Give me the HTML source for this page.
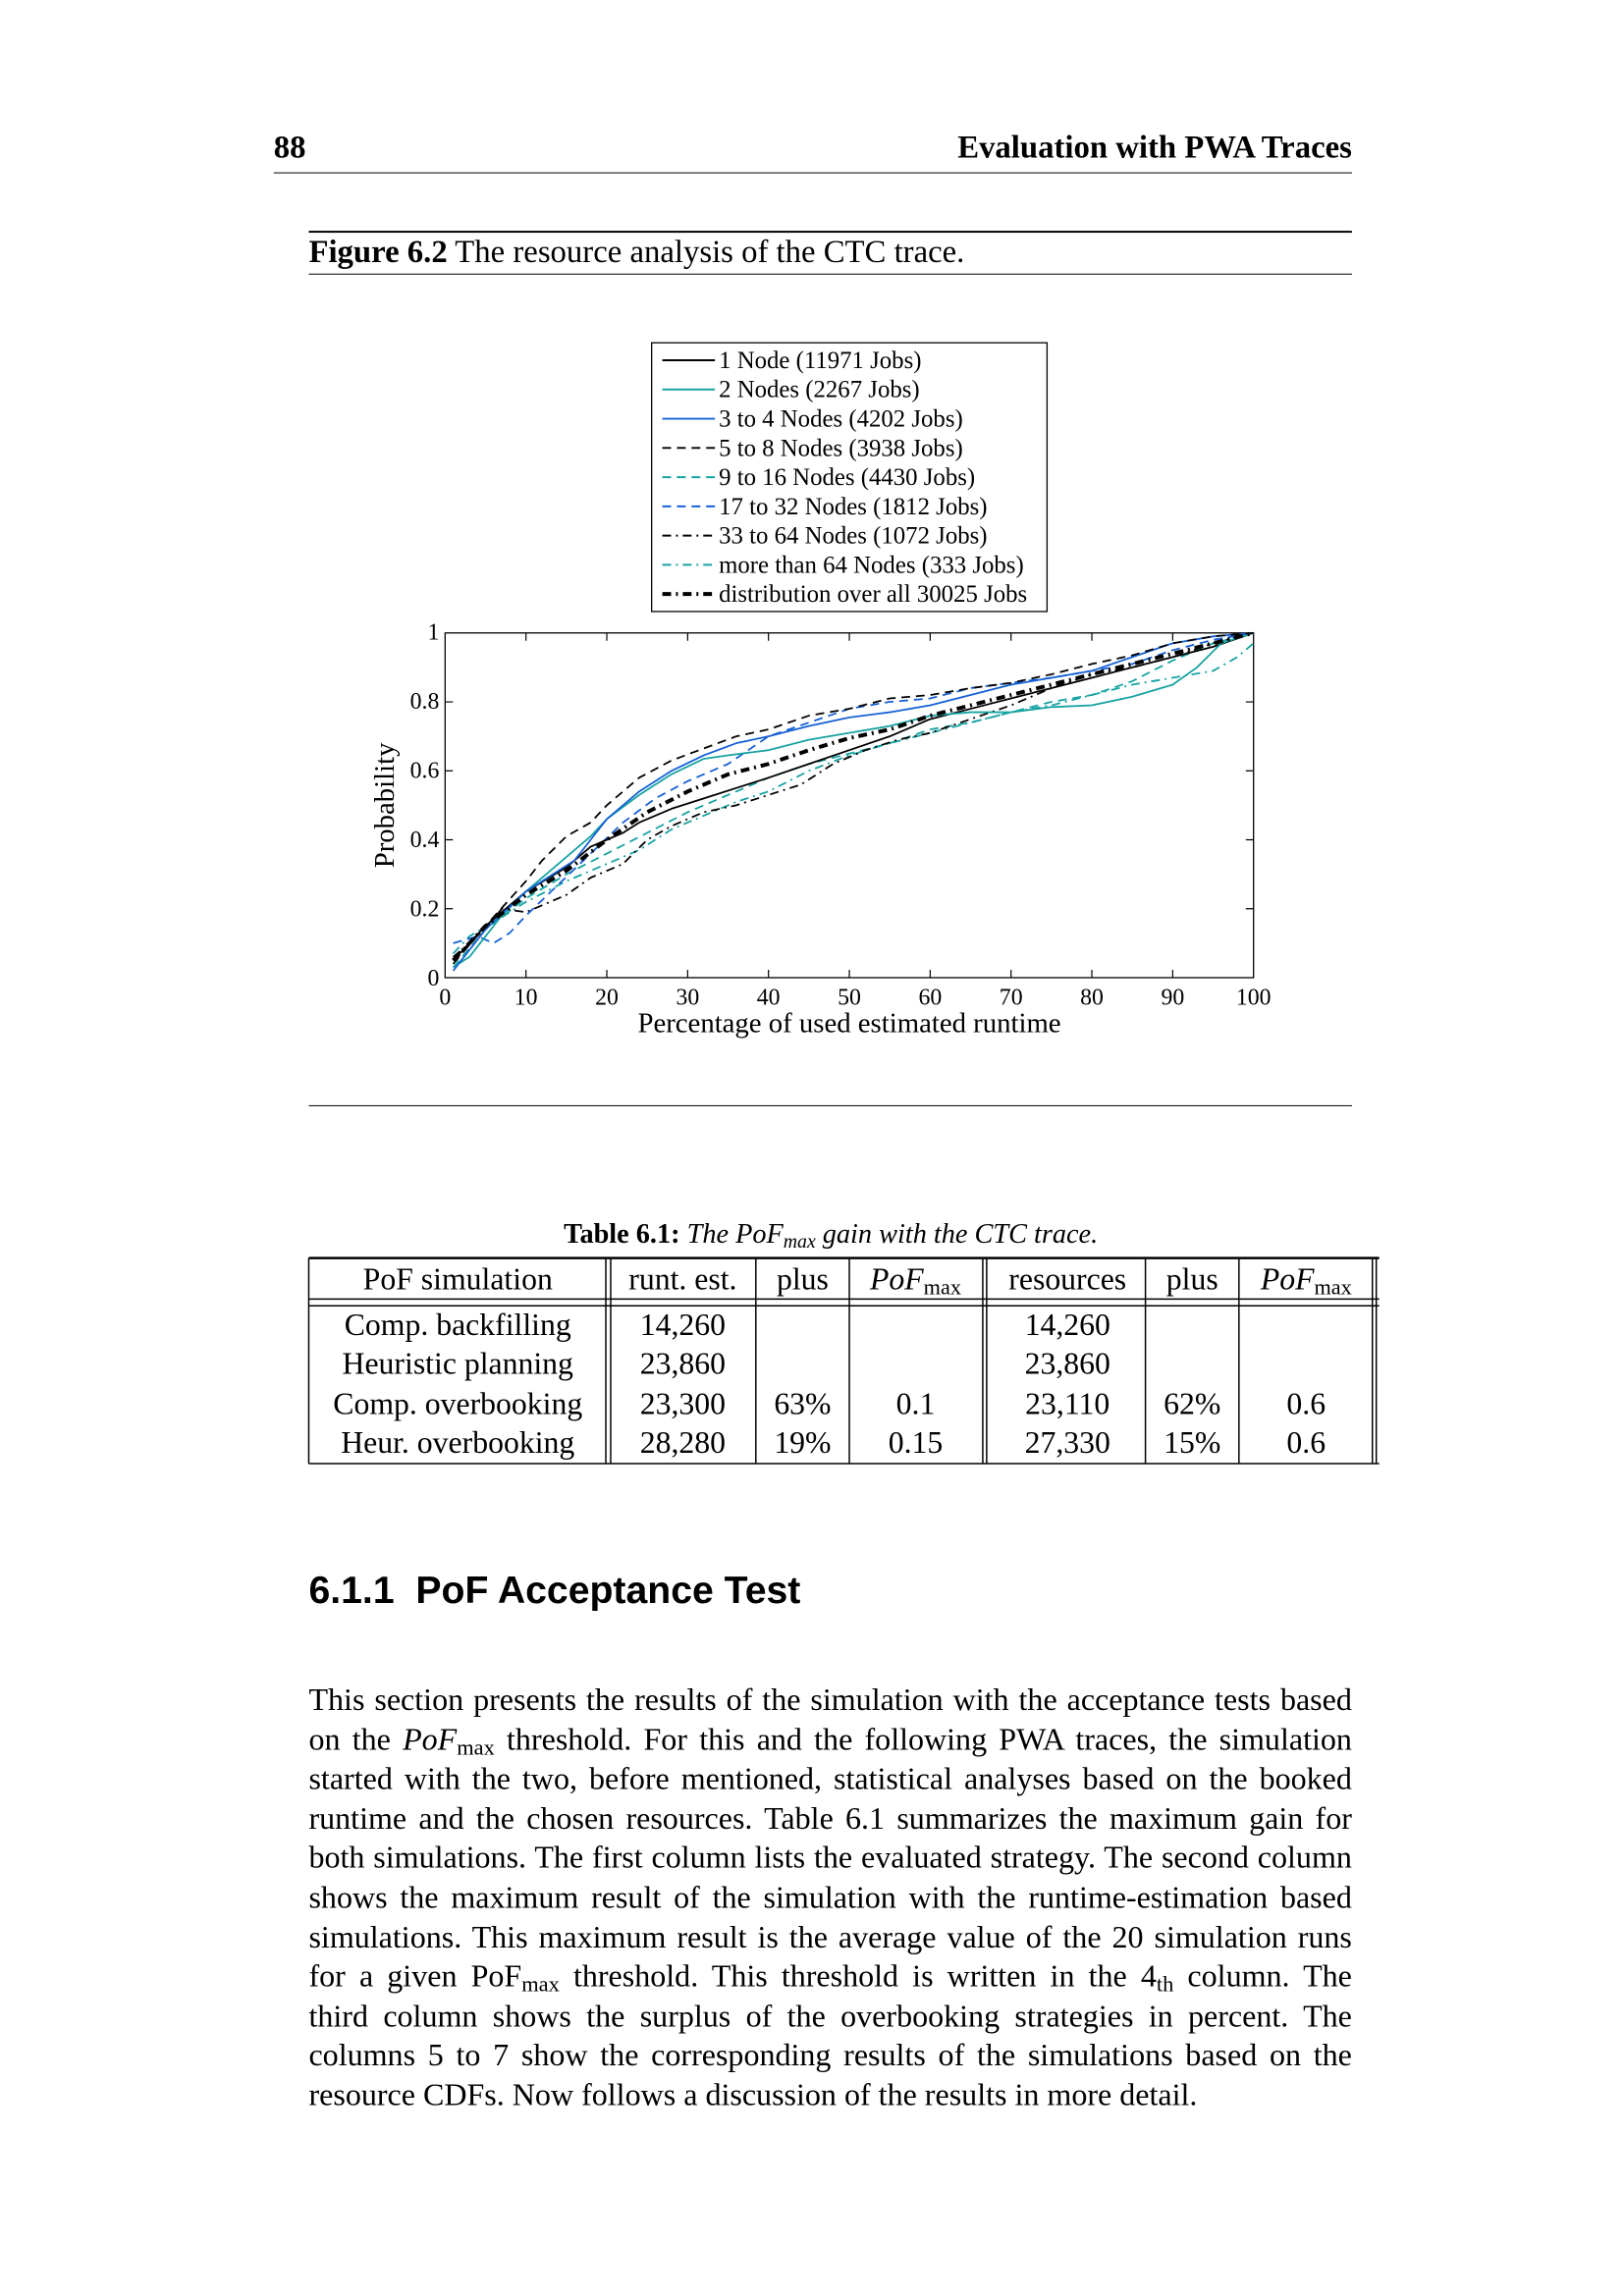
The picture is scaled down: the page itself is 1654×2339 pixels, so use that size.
<!DOCTYPE html>
<html><head><meta charset="utf-8"><style>
html,body{margin:0;padding:0;background:#fff}
body{width:1654px;height:2339px;position:relative;overflow:hidden;font-family:"Liberation Serif",serif;color:#000}
#w{position:absolute;left:0;top:0;width:1654px;height:2339px;transform:scale(0.992);transform-origin:0 0}
.a{position:absolute;white-space:nowrap}
.p{position:absolute;left:317px;width:1071px;font-size:32.3px;line-height:40.6px;text-align:justify}
.p div{text-align-last:justify;height:40.6px;white-space:nowrap}
.p div.l{text-align-last:left}
sub{font-size:70%;vertical-align:-5px;line-height:0}
</style></head><body><div id="w">
<div class="a" style="left:281px;top:134px;font-size:33px;font-weight:bold">88</div>
<div class="a" style="right:266px;top:134px;font-size:33px;font-weight:bold">Evaluation with PWA Traces</div>
<div class="a" style="left:281px;top:177px;width:1107px;height:1px;background:#000"></div>
<div class="a" style="left:317px;top:237px;width:1071px;height:2px;background:#000"></div>
<div class="a" style="left:317px;top:241px;font-size:33px"><b>Figure 6.2</b> The resource analysis of the CTC trace.</div>
<div class="a" style="left:317px;top:281px;width:1071px;height:1px;background:#000"></div>
<div class="a" style="left:317px;top:1135px;width:1071px;height:1px;background:#000"></div>

<svg class="a" style="left:0;top:0" width="1654" height="2339" viewBox="0 0 1654 2339">
<g font-family="Liberation Serif, serif" font-size="25">
<rect x="669" y="352" width="406" height="276" fill="#fff" stroke="#000" stroke-width="1.3"/>
<g stroke-width="2" fill="none">
<line x1="680" y1="370" x2="734" y2="370" stroke="#000"/>
<line x1="680" y1="400" x2="734" y2="400" stroke="#17a2a2"/>
<line x1="680" y1="430" x2="734" y2="430" stroke="#1560d4"/>
<line x1="680" y1="460" x2="734" y2="460" stroke="#000" stroke-dasharray="9,6"/>
<line x1="680" y1="490" x2="734" y2="490" stroke="#17a2a2" stroke-dasharray="9,6"/>
<line x1="680" y1="520" x2="734" y2="520" stroke="#1560d4" stroke-dasharray="9,6"/>
<line x1="680" y1="550" x2="734" y2="550" stroke="#000" stroke-dasharray="9,5,2,5"/>
<line x1="680" y1="580" x2="734" y2="580" stroke="#17a2a2" stroke-dasharray="9,5,2,5"/>
<line x1="680" y1="610" x2="734" y2="610" stroke="#000" stroke-width="4" stroke-dasharray="9,5,2,5"/>
</g>
<text x="738" y="378">1 Node (11971 Jobs)</text>
<text x="738" y="408">2 Nodes (2267 Jobs)</text>
<text x="738" y="438">3 to 4 Nodes (4202 Jobs)</text>
<text x="738" y="468">5 to 8 Nodes (3938 Jobs)</text>
<text x="738" y="498">9 to 16 Nodes (4430 Jobs)</text>
<text x="738" y="528">17 to 32 Nodes (1812 Jobs)</text>
<text x="738" y="558">33 to 64 Nodes (1072 Jobs)</text>
<text x="738" y="588">more than 64 Nodes (333 Jobs)</text>
<text x="738" y="618">distribution over all 30025 Jobs</text>

<rect x="457" y="650" width="830" height="354" fill="none" stroke="#000" stroke-width="1.3"/>
<g stroke="#000" stroke-width="1.2">
<path d="M540 1004v-8M623 1004v-8M706 1004v-8M789 1004v-8M872 1004v-8M955 1004v-8M1038 1004v-8M1121 1004v-8M1204 1004v-8
M540 650v8M623 650v8M706 650v8M789 650v8M872 650v8M955 650v8M1038 650v8M1121 650v8M1204 650v8
M457 933.2h8M457 862.4h8M457 791.6h8M457 720.8h8M1287 933.2h-8M1287 862.4h-8M1287 791.6h-8M1287 720.8h-8"/>
</g>
<g text-anchor="end" font-size="24">
<text x="451" y="657">1</text><text x="451" y="728">0.8</text><text x="451" y="799">0.6</text>
<text x="451" y="870">0.4</text><text x="451" y="941">0.2</text><text x="451" y="1012">0</text>
</g>
<g text-anchor="middle" font-size="24">
<text x="457" y="1032">0</text><text x="540" y="1032">10</text><text x="623" y="1032">20</text><text x="706" y="1032">30</text>
<text x="789" y="1032">40</text><text x="872" y="1032">50</text><text x="955" y="1032">60</text><text x="1038" y="1032">70</text>
<text x="1121" y="1032">80</text><text x="1204" y="1032">90</text><text x="1287" y="1032">100</text>
<text x="872" y="1060" font-size="29">Percentage of used estimated runtime</text>
<text transform="translate(404,827) rotate(-90)" font-size="29">Probability</text>
</g>
<g transform="translate(457,1004) scale(8.3,-354)" fill="none" stroke-width="1.8" stroke-linejoin="round">
<polyline vector-effect="non-scaling-stroke" stroke="#17a2a2" stroke-dasharray="9,5,2,5" points="1,0.07 3,0.12 6,0.16 10,0.22 15,0.28 20,0.33 24,0.37 28,0.43 32,0.47 36,0.51 40,0.54 45,0.6 50,0.645 55,0.68 60,0.71 65,0.74 70,0.77 75,0.79 80,0.82 85,0.85 90,0.87 95,0.89 98,0.93 100,0.97"/>
<polyline vector-effect="non-scaling-stroke" stroke="#17a2a2" stroke-dasharray="9,6" points="1,0.03 5,0.14 10,0.23 15,0.3 20,0.36 25,0.42 30,0.48 35,0.53 40,0.58 45,0.62 50,0.65 55,0.68 60,0.72 65,0.74 70,0.77 75,0.8 80,0.82 85,0.86 90,0.92 95,0.97 100,1"/>
<polyline vector-effect="non-scaling-stroke" stroke="#000" stroke-dasharray="9,5,2,5" points="1,0.06 5,0.14 7,0.2 10,0.19 15,0.24 18,0.29 22,0.33 25,0.4 28,0.44 32,0.48 36,0.5 40,0.53 44,0.56 48,0.62 52,0.66 56,0.69 60,0.71 65,0.75 70,0.79 75,0.84 80,0.88 85,0.9 90,0.93 95,0.97 100,1"/>
<polyline vector-effect="non-scaling-stroke" stroke="#1560d4" stroke-dasharray="9,6" points="1,0.1 4,0.12 6,0.1 8,0.13 10,0.18 14,0.27 18,0.36 22,0.45 26,0.52 30,0.57 35,0.62 40,0.7 45,0.74 50,0.78 55,0.8 60,0.81 65,0.84 70,0.855 75,0.87 80,0.89 85,0.91 90,0.95 95,0.98 100,1"/>
<polyline vector-effect="non-scaling-stroke" stroke="#000" points="1,0.05 5,0.15 10,0.25 15,0.32 18,0.38 20,0.4 22,0.42 24,0.45 28,0.49 32,0.52 36,0.55 40,0.58 45,0.62 50,0.66 55,0.7 60,0.75 65,0.78 70,0.81 75,0.84 80,0.87 85,0.9 90,0.93 95,0.96 100,1"/>
<polyline vector-effect="non-scaling-stroke" stroke="#17a2a2" points="1,0.03 3,0.06 5,0.12 7,0.18 10,0.25 14,0.33 18,0.41 20,0.46 24,0.53 28,0.59 32,0.635 35,0.645 40,0.66 45,0.69 50,0.71 55,0.73 60,0.76 65,0.77 70,0.77 75,0.785 80,0.79 85,0.815 90,0.85 93,0.9 96,0.97 100,1"/>
<polyline vector-effect="non-scaling-stroke" stroke="#1560d4" points="1,0.02 5,0.14 10,0.25 16,0.34 18,0.4 20,0.46 24,0.54 28,0.6 32,0.645 36,0.68 40,0.7 45,0.73 50,0.755 55,0.77 60,0.79 65,0.82 70,0.85 75,0.87 80,0.89 85,0.93 90,0.97 95,0.99 100,1"/>
<polyline vector-effect="non-scaling-stroke" stroke="#000" stroke-dasharray="9,6" points="1,0.04 5,0.15 10,0.28 12,0.34 15,0.41 18,0.45 20,0.5 24,0.58 28,0.63 32,0.665 36,0.7 40,0.72 45,0.76 50,0.78 55,0.81 60,0.82 65,0.84 70,0.855 75,0.88 80,0.91 85,0.935 90,0.97 95,0.99 100,1"/>
<polyline vector-effect="non-scaling-stroke" stroke="#000" stroke-width="4" stroke-dasharray="9,5,2,5" points="1,0.05 5,0.15 10,0.24 15,0.31 20,0.4 25,0.48 30,0.54 35,0.59 40,0.62 45,0.66 50,0.695 55,0.72 60,0.76 65,0.79 70,0.82 75,0.85 80,0.88 85,0.91 90,0.94 95,0.97 100,1"/>
</g>
</g>

<g stroke="#000" stroke-width="1.5">
<line x1="317" y1="1292" x2="1416" y2="1292" stroke-width="2.5"/>
<line x1="317" y1="1334" x2="1416" y2="1334"/>
<line x1="317" y1="1341" x2="1416" y2="1341"/>
<line x1="317" y1="1503" x2="1416" y2="1503"/>
<path d="M317 1292V1503M622 1292V1503M627 1292V1503M776 1292V1503M872 1292V1503M1009 1292V1503M1013 1292V1503M1176 1292V1503M1272 1292V1503M1409 1292V1503M1413 1292V1503"/>
</g>
</svg>

<div class="a" style="left:0;width:1706px;text-align:center;top:1252px;font-size:28.5px"><b>Table 6.1:</b> <i>The PoF<sub>max</sub> gain with the CTC trace.</i></div>
<div style="position:absolute;left:0;top:0;font-size:32px">
<div class="a" style="left:470px;top:1295px;transform:translateX(-50%)">PoF simulation</div>
<div class="a" style="left:701px;top:1295px;transform:translateX(-50%)">runt. est.</div>
<div class="a" style="left:824px;top:1295px;transform:translateX(-50%)">plus</div>
<div class="a" style="left:940px;top:1295px;transform:translateX(-50%)"><i>PoF</i><sub>max</sub></div>
<div class="a" style="left:1096px;top:1295px;transform:translateX(-50%)">resources</div>
<div class="a" style="left:1224px;top:1295px;transform:translateX(-50%)">plus</div>
<div class="a" style="left:1341px;top:1295px;transform:translateX(-50%)"><i>PoF</i><sub>max</sub></div>

<div class="a" style="left:470px;top:1342px;transform:translateX(-50%)">Comp. backfilling</div>
<div class="a" style="left:470px;top:1382px;transform:translateX(-50%)">Heuristic planning</div>
<div class="a" style="left:470px;top:1423px;transform:translateX(-50%)">Comp. overbooking</div>
<div class="a" style="left:470px;top:1463px;transform:translateX(-50%)">Heur. overbooking</div>
<div class="a" style="left:701px;top:1342px;transform:translateX(-50%)">14,260</div>
<div class="a" style="left:701px;top:1382px;transform:translateX(-50%)">23,860</div>
<div class="a" style="left:701px;top:1423px;transform:translateX(-50%)">23,300</div>
<div class="a" style="left:701px;top:1463px;transform:translateX(-50%)">28,280</div>
<div class="a" style="left:824px;top:1423px;transform:translateX(-50%)">63%</div>
<div class="a" style="left:824px;top:1463px;transform:translateX(-50%)">19%</div>
<div class="a" style="left:940px;top:1423px;transform:translateX(-50%)">0.1</div>
<div class="a" style="left:940px;top:1463px;transform:translateX(-50%)">0.15</div>
<div class="a" style="left:1096px;top:1342px;transform:translateX(-50%)">14,260</div>
<div class="a" style="left:1096px;top:1382px;transform:translateX(-50%)">23,860</div>
<div class="a" style="left:1096px;top:1423px;transform:translateX(-50%)">23,110</div>
<div class="a" style="left:1096px;top:1463px;transform:translateX(-50%)">27,330</div>
<div class="a" style="left:1224px;top:1423px;transform:translateX(-50%)">62%</div>
<div class="a" style="left:1224px;top:1463px;transform:translateX(-50%)">15%</div>
<div class="a" style="left:1341px;top:1423px;transform:translateX(-50%)">0.6</div>
<div class="a" style="left:1341px;top:1463px;transform:translateX(-50%)">0.6</div>
</div>

<div class="a" style="left:317px;top:1611px;font-family:'Liberation Sans',sans-serif;font-weight:bold;font-size:39.5px">6.1.1&nbsp; PoF Acceptance Test</div>

<div class="p" style="top:1725px">
<div>This section presents the results of the simulation with the acceptance tests based</div>
<div>on the <i>PoF</i><sub>max</sub> threshold. For this and the following PWA traces, the simulation</div>
<div>started with the two, before mentioned, statistical analyses based on the booked</div>
<div>runtime and the chosen resources. Table 6.1 summarizes the maximum gain for</div>
<div>both simulations. The first column lists the evaluated strategy. The second column</div>
<div>shows the maximum result of the simulation with the runtime-estimation based</div>
<div>simulations. This maximum result is the average value of the 20 simulation runs</div>
<div>for a given PoF<sub>max</sub> threshold. This threshold is written in the 4<sub>th</sub> column. The</div>
<div>third column shows the surplus of the overbooking strategies in percent. The</div>
<div>columns 5 to 7 show the corresponding results of the simulations based on the</div>
<div class="l">resource CDFs. Now follows a discussion of the results in more detail.</div>
</div>
</div></body></html>
